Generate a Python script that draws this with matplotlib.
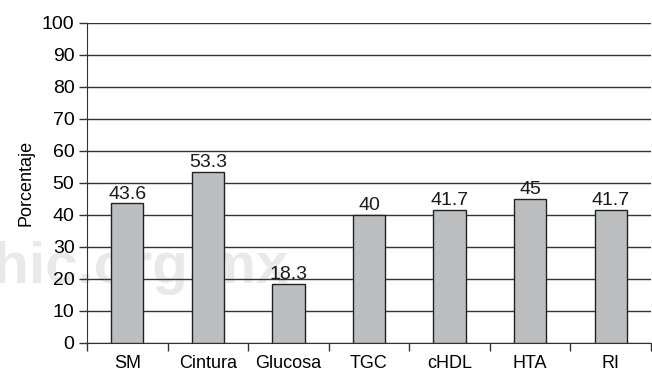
import matplotlib
matplotlib.use("Agg")
from matplotlib import pyplot as plt
from matplotlib import font_manager as fm

categorias = ["SM", "Cintura", "Glucosa", "TGC", "cHDL", "HTA", "RI"]
porcentajes = [43.6, 53.3, 18.3, 40, 41.7, 45, 41.7]
etiquetas = ["43.6", "53.3", "18.3", "40", "41.7", "45", "41.7"]
yticks = list(range(0, 101, 10))

# fuente condensada si existe
nombres = {f.name for f in fm.fontManager.ttflist}
fuente = "Liberation Sans Narrow" if "Liberation Sans Narrow" in nombres else "Liberation Sans"
plt.rcParams["font.family"] = [fuente, "DejaVu Sans"]

fig = plt.figure(figsize=(6.52, 3.77), dpi=100)
ax = fig.add_axes([0.1334, 0.0902, 0.8650, 0.8488])
ax.set_zorder(1)
ax.set_facecolor("none")

# marca de agua tenue al fondo
fig.text(288 / 652, 1 - 268 / 377, "medigraphic.org.mx", ha="right", va="center",
         fontsize=42, fontweight="bold", color="#e9e9e9", zorder=-1)

x = range(len(categorias))
ax.bar(x, porcentajes, width=0.4, color="#bdbec0", edgecolor="#222222",
       linewidth=1.0, zorder=3)
for xi, v, t in zip(x, porcentajes, etiquetas):
    ax.text(xi, v + 0.3, t, ha="center", va="bottom", fontsize=14, color="#1a1a1a")

ax.set_xlim(-0.5, len(categorias) - 0.5)
ax.set_ylim(0, 100)
ax.set_yticks(yticks)
ax.yaxis.grid(True, color="#333333", linewidth=1.0, zorder=1)
ax.set_axisbelow(True)

ax.set_xticks(x)
ax.set_xticklabels(categorias, fontsize=13)
ax.set_xticks([i - 0.5 for i in range(len(categorias) + 1)], minor=True)
ax.tick_params(axis="x", which="major", length=0, pad=9)
ax.tick_params(axis="x", which="minor", length=6, width=1, color="#333333")
ax.tick_params(axis="y", length=6, width=1, color="#333333", labelsize=14, pad=3)

ax.spines["top"].set_visible(False)
ax.spines["right"].set_visible(False)
ax.spines["left"].set_color("#333333")
ax.spines["bottom"].set_color("#333333")

ax.set_ylabel("Porcentaje", fontsize=13, labelpad=5)

fig.savefig("out.png", dpi=100)
